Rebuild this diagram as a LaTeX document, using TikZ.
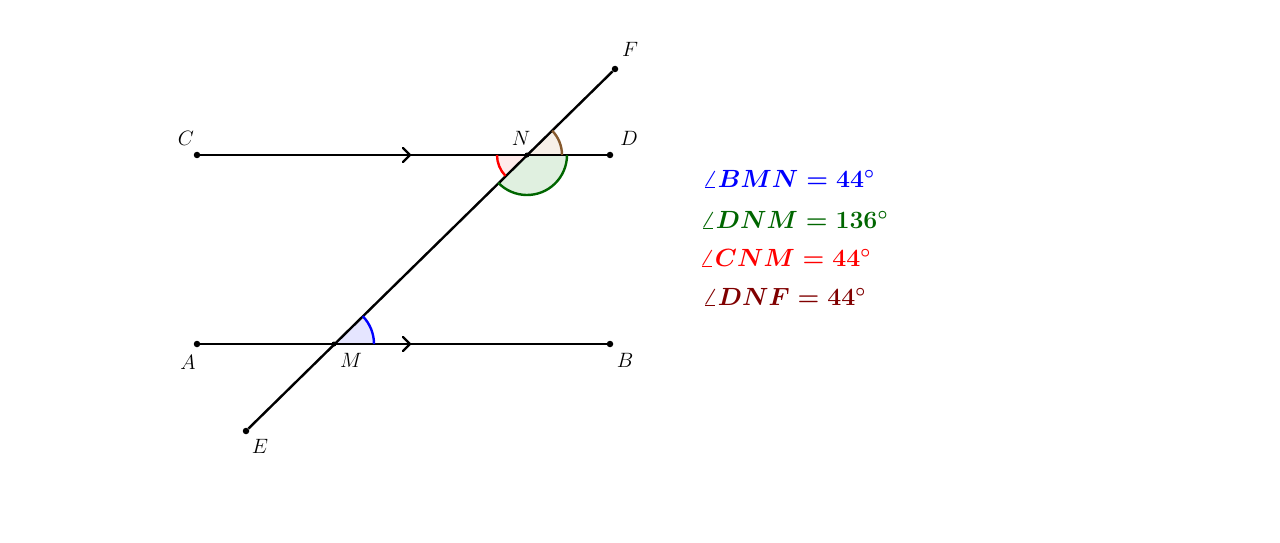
\documentclass[tikz,border=0pt]{standalone}
\usepackage{amsmath}
\begin{document}
\begin{tikzpicture}[x=1pt,y=1pt,
  seg/.style={line width=2.4pt,black},
  pt/.style={circle,fill=black,inner sep=0pt,minimum size=6.5pt},
  lab/.style={font=\fontsize{21}{25}\selectfont},
  meas/.style={font=\fontsize{24.5}{29}\selectfont\boldmath,anchor=west},
  chev/.style={line width=2.4pt,line cap=round,line join=round}]
\useasboundingbox (0,0) rectangle (1280,542);
\coordinate (N) at (527,387);
\coordinate (M) at (334,198);
\node[pt] (C) at (197,387) {};
\node[pt] (D) at (610,387) {};
\node[pt] (A) at (197,198) {};
\node[pt] (B) at (610,198) {};
\node[pt] (E) at (246,111) {};
\node[pt] (F) at (615,473) {};
% fills
\fill[blue!10] (M) -- ++(0:40) arc[start angle=0,end angle=44,radius=40pt] -- cycle;
\fill[red!8] (N) -- ++(180:30) arc[start angle=180,end angle=224,radius=30pt] -- cycle;
\fill[green!50!black!12] (N) -- ++(224:40) arc[start angle=224,end angle=360,radius=40pt] -- cycle;
\fill[brown!12] (N) -- ++(0:35) arc[start angle=0,end angle=44,radius=35pt] -- cycle;
% lines
\draw[seg] (C) -- (D);
\draw[seg] (A) -- (B);
\draw[seg] (E) -- (F);
\draw[chev] (403,394) -- (410,387) -- (403,380);
\draw[chev] (403,205) -- (410,198) -- (403,191);
% arcs
\draw[blue,line width=2.4pt] (M) ++(0:40) arc[start angle=0,end angle=44,radius=40pt];
\draw[red,line width=2.4pt] (N) ++(180:30) arc[start angle=180,end angle=224,radius=30pt];
\draw[green!40!black,line width=2.4pt] (N) ++(224:40) arc[start angle=224,end angle=360,radius=40pt];
\draw[brown!70!black,line width=2.4pt] (N) ++(0:35) arc[start angle=0,end angle=44,radius=35pt];
\node[pt,minimum size=5pt] (Np) at (N) {};
\node[pt,minimum size=5pt] (Mp) at (M) {};
% labels
\node[lab] (lF) at (630,493) {$F$};
\node[lab] (lN) at (521,404) {$N$};
\node[lab] (lD) at (629,404) {$D$};
\node[lab] (lC) at (186,404) {$C$};
\node[lab] (lA) at (188,180) {$A$};
\node[lab] (lM) at (351,182) {$M$};
\node[lab] (lB) at (625,182) {$B$};
\node[lab] (lE) at (260,96) {$E$};
\node[meas,text=blue] (m1) at (699,363) {$\angle BMN = 44^\circ$};
\node[meas,text=green!40!black] (m2) at (697,322) {$\angle DNM = 136^\circ$};
\node[meas,text=red] (m3) at (696,284) {$\angle CNM = 44^\circ$};
\node[meas,text=red!50!black] (m4) at (699,245) {$\angle DNF = 44^\circ$};
\end{tikzpicture}
\end{document}
